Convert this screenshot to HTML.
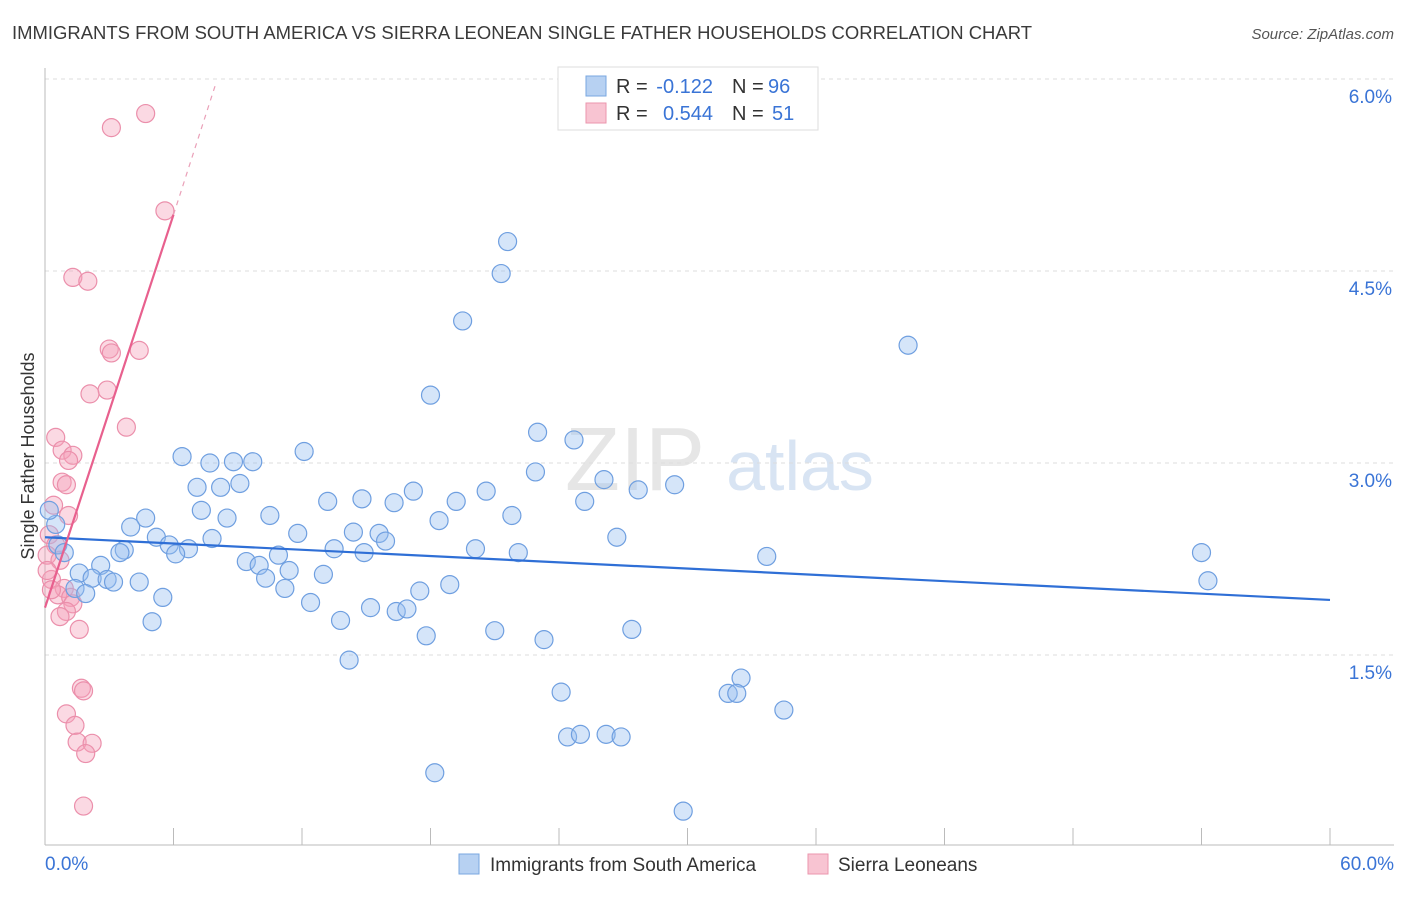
<!DOCTYPE html>
<html><head><meta charset="utf-8"><style>
body{margin:0;background:#fff;font-family:"Liberation Sans",sans-serif}
svg text{font-family:"Liberation Sans",sans-serif}
</style></head><body>
<svg id="c" width="1406" height="892" xmlns="http://www.w3.org/2000/svg">
<text x="12" y="39" font-size="18" fill="#3a3a3a" textLength="1020" lengthAdjust="spacingAndGlyphs">IMMIGRANTS FROM SOUTH AMERICA VS SIERRA LEONEAN SINGLE FATHER HOUSEHOLDS CORRELATION CHART</text>
<text x="1394" y="39" font-size="15" fill="#555" text-anchor="end" font-style="italic">Source: ZipAtlas.com</text>
<text x="34" y="456" font-size="18" fill="#333" text-anchor="middle" transform="rotate(-90 34 456)">Single Father Households</text>
<g><text x="635" y="490" font-size="90" fill="#e6e6e6" text-anchor="middle" font-family="Liberation Serif">ZIP</text><text x="800" y="490" font-size="70" fill="#d8e4f3" text-anchor="middle">atlas</text></g>
<g id="grid"></g><g id="axes"></g><g id="pts"></g><g id="lines"></g>
<g>
<rect x="558" y="67" width="260" height="63" fill="#fff" stroke="#ddd"/>
<rect x="586" y="76" width="20" height="20" fill="#b7d1f2" stroke="#7aa7e0"/>
<rect x="586" y="103" width="20" height="20" fill="#f8c4d2" stroke="#eb96ad"/>
<text x="616" y="93" font-size="20" fill="#333">R =</text>
<text x="713" y="93" font-size="20" fill="#3a74d6" text-anchor="end">-0.122</text>
<text x="732" y="93" font-size="20" fill="#333">N =</text>
<text x="768" y="93" font-size="20" fill="#3a74d6">96</text>
<text x="616" y="120" font-size="20" fill="#333">R =</text>
<text x="713" y="120" font-size="20" fill="#3a74d6" text-anchor="end">0.544</text>
<text x="732" y="120" font-size="20" fill="#333">N =</text>
<text x="772" y="120" font-size="20" fill="#3a74d6">51</text>
</g>
<g>
<rect x="459" y="854" width="20" height="20" fill="#b7d1f2" stroke="#7aa7e0"/>
<text x="490" y="871" font-size="19" fill="#333">Immigrants from South America</text>
<rect x="808" y="854" width="20" height="20" fill="#f8c4d2" stroke="#eb96ad"/>
<text x="838" y="871" font-size="19" fill="#333">Sierra Leoneans</text>
</g>
</svg>
<script>
const yTicks=[1.5,3.0,4.5,6.0];
const xTickLabels=["0.0%","60.0%"];
const blueX=[21.6,21.3,19.5,40.3,18.0,23.0,24.7,6.4,12.1,7.7,8.8,9.7,22.9,26.1,29.4,7.1,8.2,9.1,27.7,20.6,17.2,13.2,14.8,16.3,19.2,25.2,7.3,10.5,4.7,8.5,21.8,18.4,4.0,11.8,14.4,15.6,5.2,7.8,15.9,26.7,5.8,6.7,6.1,13.5,14.9,20.1,22.1,3.7,3.5,10.9,33.7,54.0,9.4,10.0,2.6,11.4,1.6,2.2,2.9,3.2,4.4,10.3,13.0,54.3,1.4,1.9,11.2,18.9,17.5,5.5,12.4,15.2,16.4,16.9,5.0,13.8,21.0,27.4,17.8,23.3,14.2,32.5,24.1,31.9,32.3,34.5,24.4,25.0,26.2,26.9,18.2,29.8,0.5,0.6,0.9,0.2];
const blueY=[4.73,4.48,4.11,3.92,3.53,3.24,3.18,3.05,3.09,3.00,3.01,3.01,2.93,2.87,2.83,2.81,2.81,2.84,2.79,2.78,2.78,2.70,2.72,2.69,2.70,2.70,2.63,2.59,2.57,2.57,2.59,2.55,2.50,2.45,2.46,2.45,2.42,2.41,2.39,2.42,2.36,2.33,2.29,2.33,2.30,2.33,2.30,2.32,2.30,2.28,2.27,2.30,2.23,2.20,2.20,2.16,2.14,2.10,2.09,2.07,2.07,2.10,2.13,2.08,2.02,1.98,2.02,2.05,2.00,1.95,1.91,1.87,1.84,1.86,1.76,1.77,1.69,1.70,1.65,1.62,1.46,1.32,1.21,1.20,1.20,1.07,0.86,0.88,0.88,0.86,0.58,0.28,2.52,2.36,2.30,2.63];
const pinkX=[4.7,3.1,5.6,1.3,2.0,3.0,3.1,4.4,2.9,2.1,3.8,0.5,0.8,1.3,1.1,0.8,1.0,0.4,1.1,0.2,0.5,0.1,0.7,0.3,0.9,0.6,1.2,1.3,1.0,0.7,1.6,1.7,1.8,1.0,1.4,1.5,2.2,1.9,1.8,0.1,0.3];
const pinkY=[5.73,5.62,4.97,4.45,4.42,3.89,3.86,3.88,3.57,3.54,3.28,3.20,3.10,3.06,3.02,2.85,2.83,2.67,2.59,2.44,2.36,2.28,2.24,2.09,2.02,1.97,1.95,1.90,1.84,1.80,1.70,1.24,1.22,1.04,0.95,0.82,0.81,0.73,0.32,2.16,2.01];
const blueTrend=[[0,2.42],[60,1.93]];
const pinkTrend=[[0,1.87],[6.0,4.94]];
const pinkDash=[[6.0,4.94],[7.95,5.95]];
const X=v=>45+v/60*1285, Y=v=>847-v*128;
const NS="http://www.w3.org/2000/svg";
function mk(p,t,a){const e=document.createElementNS(NS,t);for(const k in a)e.setAttribute(k,a[k]);p.appendChild(e);return e;}
const grid=document.getElementById('grid'),axes=document.getElementById('axes'),pts=document.getElementById('pts'),lines=document.getElementById('lines');
yTicks.forEach(t=>{
const g=mk(grid,'line',{x1:45,x2:1394,y1:Y(t),y2:Y(t),stroke:'#ddd','stroke-dasharray':'4 4'});


const l=mk(axes,'text',{x:1392,y:Y(t)+24,'font-size':19,fill:'#3a74d6','text-anchor':'end'});l.textContent=t.toFixed(1)+'%';


});
const ax=mk(axes,'line',{x1:45,x2:1394,y1:845,y2:845,stroke:'#bbb'});


const ay=mk(axes,'line',{x1:45,x2:45,y1:68,y2:845,stroke:'#bbb'});


for(let i=1;i<=10;i++){const tk=mk(axes,'line',{x1:X(i*6),x2:X(i*6),y1:828,y2:845,stroke:'#bbb'});

}
const x0=mk(axes,'text',{x:45,y:870,'font-size':19,fill:'#3a74d6'});x0.textContent=xTickLabels[0];


const x1=mk(axes,'text',{x:1394,y:870,'font-size':19,fill:'#3a74d6','text-anchor':'end'});x1.textContent=xTickLabels[1];


pinkX.forEach((v,i)=>{const c=mk(pts,'circle',{cx:X(v),cy:Y(pinkY[i]),r:9,fill:'rgba(245,160,185,0.4)',stroke:'#eb8fab','stroke-width':1.2});

});
blueX.forEach((v,i)=>{const c=mk(pts,'circle',{cx:X(v),cy:Y(blueY[i]),r:9,fill:'rgba(150,190,240,0.4)',stroke:'#6f9fe0','stroke-width':1.2});

});
const bl=mk(lines,'line',{x1:X(blueTrend[0][0]),y1:Y(blueTrend[0][1]),x2:X(blueTrend[1][0]),y2:Y(blueTrend[1][1]),stroke:'#2f6fd6','stroke-width':2.2});


const pl=mk(lines,'line',{x1:X(pinkTrend[0][0]),y1:Y(pinkTrend[0][1]),x2:X(pinkTrend[1][0]),y2:Y(pinkTrend[1][1]),stroke:'#e8608e','stroke-width':2.2});


const pd=mk(lines,'line',{x1:X(pinkDash[0][0]),y1:Y(pinkDash[0][1]),x2:X(pinkDash[1][0]),y2:Y(pinkDash[1][1]),stroke:'#eaa0b8','stroke-width':1.2,'stroke-dasharray':'5 5'});


</script>
</body></html>
